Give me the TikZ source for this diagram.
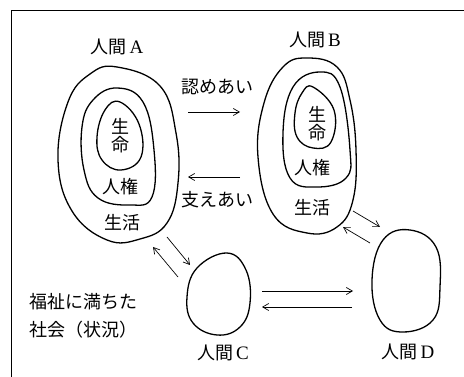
\documentclass[tikz,border=0pt]{standalone}
\usepackage{fontspec}
\setmainfont{Liberation Serif}
\newfontfamily\jp{Noto Sans CJK JP}
\usetikzlibrary{arrows.meta}
\newcommand{\lat}[1]{\,{\rmfamily\fontsize{19}{19}\selectfont #1}}
\begin{document}
\begin{tikzpicture}[x=1pt,y=-1pt,
  blob/.style={line width=1.3pt, line join=round},
  arr/.style={line width=0.7pt, -{Straight Barb[length=6pt,width=7pt]}},
  lbl/.style={font=\jp\fontsize{18}{18}\selectfont, inner sep=0pt, align=center},
]
\useasboundingbox (0,0) rectangle (464,377);
% frame
\coordinate (fbl) at (11,377);
\coordinate (ftl) at (11,11);
\coordinate (ftr) at (464,11);
\draw[line width=1pt] (fbl) -- (ftl) -- (ftr);

% person A
\draw[blob] plot[smooth cycle, tension=0.7] coordinates {(117,67) (160,86) (176,133) (178,183) (167,223) (140,239) (107,240) (72,211) (58,160) (68,102) (90,74)};
\draw[blob] plot[smooth cycle, tension=0.7] coordinates {(117,88) (143,102) (154,150) (152,197) (130,205) (98,198) (84,170) (82,127) (93,100)};
\draw[blob] plot[smooth cycle, tension=0.7] coordinates {(120,102) (139,124) (141,157) (121,170) (102,160) (97,137) (105,110)};
% person B
\draw[blob] plot[smooth cycle, tension=0.7] coordinates {(307,58) (337,67) (350,100) (356,150) (353,200) (337,227) (307,233) (273,214) (258,157) (264,103) (283,67)};
\draw[blob] plot[smooth cycle, tension=0.7] coordinates {(320,72) (340,87) (350,150) (346,178) (317,187) (290,178) (283,133) (293,87)};
\draw[blob] plot[smooth cycle, tension=0.7] coordinates {(313,87) (334,110) (331,142) (313,148) (297,137) (295,113) (302,93)};
% person C
\draw[blob] plot[smooth cycle, tension=0.7] coordinates {(227,253) (246,270) (250,303) (240,327) (217,335) (193,323) (187,297) (197,268)};
% person D
\draw[blob] plot[smooth cycle, tension=0.7] coordinates {(410,230) (436,247) (440,287) (433,320) (403,332) (380,320) (372,280) (383,240)};

% labels
\node[lbl] (nameA) at (117,47) {人間\lat{A}};
\node[lbl] (nameB) at (315,40) {人間\lat{B}};
\node[lbl] (nameC) at (223,353) {人間\lat{C}};
\node[lbl] (nameD) at (408,352) {人間\lat{D}};
\node[lbl] (lifeA) at (120,136) {生\\命};
\node[lbl] (rightsA) at (120,187) {人権};
\node[lbl] (livingA) at (122,223) {生活};
\node[lbl] (lifeB) at (317,124) {生\\命};
\node[lbl] (rightsB) at (312,168) {人権};
\node[lbl] (livingB) at (312,208) {生活};
\node[lbl] (mitome) at (217,87) {認めあい};
\node[lbl] (sasae) at (217,200) {支えあい};
\node[lbl, align=left, anchor=west, font=\jp\fontsize{18}{28}\selectfont] (society) at (29,316) {福祉に満ちた\\社会（状況）};

% arrows
\coordinate (ab1) at (188,112); \coordinate (ab2) at (240,112);
\coordinate (ba1) at (240,177); \coordinate (ba2) at (188,177);
\coordinate (ac1) at (167,237); \coordinate (ac2) at (190,265);
\coordinate (ca1) at (178,277); \coordinate (ca2) at (153,247);
\coordinate (bd1) at (353,211); \coordinate (bd2) at (380,227);
\coordinate (db1) at (370,243); \coordinate (db2) at (343,227);
\coordinate (cd1) at (262,291); \coordinate (cd2) at (353,291);
\coordinate (dc1) at (352,307); \coordinate (dc2) at (262,307);
\draw[arr] (ab1) -- (ab2);
\draw[arr] (ba1) -- (ba2);
\draw[arr] (ac1) -- (ac2);
\draw[arr] (ca1) -- (ca2);
\draw[arr] (bd1) -- (bd2);
\draw[arr] (db1) -- (db2);
\draw[arr] (cd1) -- (cd2);
\draw[arr] (dc1) -- (dc2);
\end{tikzpicture}
\end{document}
